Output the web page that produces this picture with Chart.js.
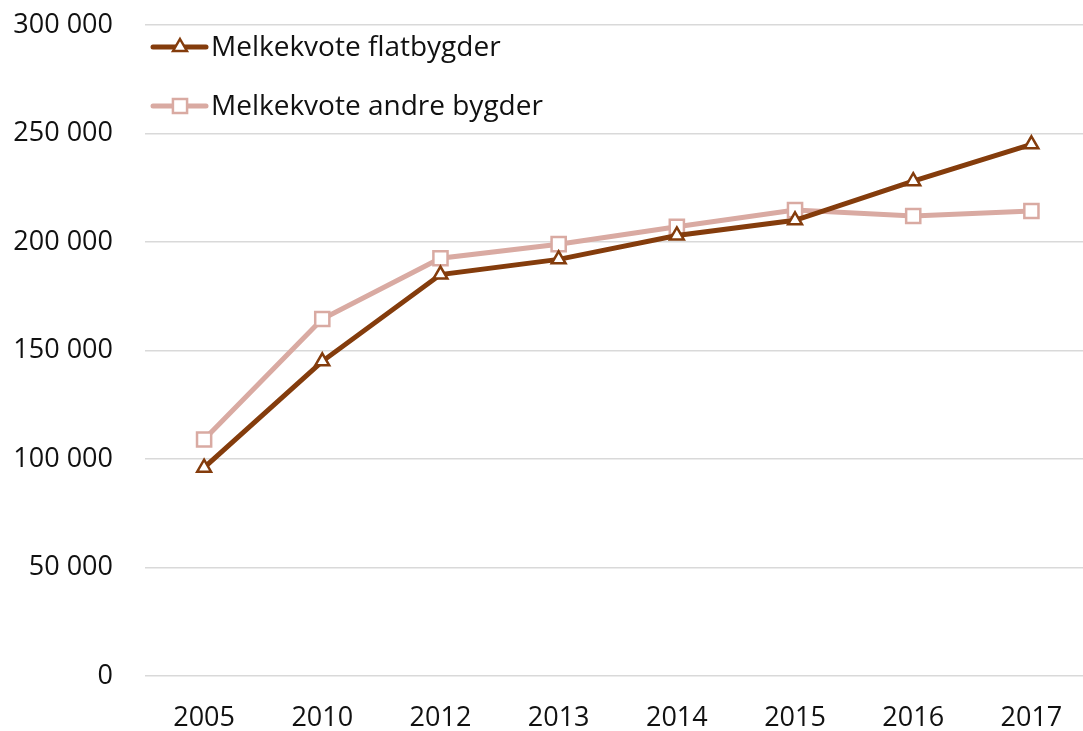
<!DOCTYPE html>
<html>
<head>
<meta charset="utf-8">
<script src="https://cdn.jsdelivr.net/npm/chart.js@4.4.1/dist/chart.umd.min.js"></script>
<style>
  html, body { margin: 0; padding: 0; background: #fff; overflow: hidden; }
  #wrap { width: 1103px; height: 731px; }
</style>
</head>
<body>
<div id="wrap"><canvas id="grafMelk"></canvas></div>
<script>
// Datos del gráfico
const aar = ['2005', '2010', '2012', '2013', '2014', '2015', '2016', '2017'];
const flatbygder = [96000, 145000, 185000, 192000, 203000, 210000, 228000, 245000];
const andreBygder = [109000, 164500, 192500, 199000, 207000, 214700, 212000, 214300];
const serieNavn = ['Melkekvote flatbygder', 'Melkekvote andre bygder'];
const yMin = 0, yMax = 300000, ySteg = 50000;

const fuente = '"Open Sans", "DejaVu Sans", sans-serif';
const colorOscuro = '#843c0c';
const colorClaro = '#d9aaa2';

// "300 000" con espacio como separador de miles
function formatoTusen(v) {
    return String(v).replace(/\B(?=(\d{3})+(?!\d))/g, ' ');
}

// Leyenda dibujada dentro del área del gráfico
const leyendaInterna = {
    id: 'leyendaInterna',
    afterDraw(chart) {
        const ctx = chart.ctx;
        const filas = [47, 106];
        ctx.save();
        chart.data.datasets.forEach((ds, i) => {
            const y = filas[i];
            ctx.strokeStyle = ds.borderColor;
            ctx.lineWidth = ds.borderWidth;
            ctx.lineCap = 'round';
            ctx.beginPath();
            ctx.moveTo(153, y);
            ctx.lineTo(206, y);
            ctx.stroke();
            ctx.fillStyle = '#fff';
            ctx.strokeStyle = ds.pointBorderColor;
            ctx.lineWidth = ds.pointBorderWidth;
            ctx.beginPath();
            if (ds.pointStyle === 'triangle') {
                const r = ds.pointRadius;
                ctx.moveTo(180, y - r);
                ctx.lineTo(180 + r * 0.866, y + r * 0.5);
                ctx.lineTo(180 - r * 0.866, y + r * 0.5);
                ctx.closePath();
            } else {
                const s = ds.pointRadius * Math.SQRT1_2;
                ctx.rect(180 - s, y - s, 2 * s, 2 * s);
            }
            ctx.fill();
            ctx.stroke();
            ctx.fillStyle = '#111';
            ctx.font = '28px ' + fuente;
            ctx.textBaseline = 'middle';
            ctx.textAlign = 'left';
            ctx.fillText(ds.label, 211, y + 1);
        });
        ctx.restore();
    }
};

const ctx = document.getElementById('grafMelk').getContext('2d');
const grafico = new Chart(ctx, {
    type: 'line',
    data: {
        labels: aar,
        datasets: [
            {
                label: serieNavn[0],
                data: flatbygder,
                borderColor: colorOscuro,
                borderWidth: 5,
                pointStyle: 'triangle',
                pointRadius: 8,
                pointBorderWidth: 2.5,
                pointBorderColor: colorOscuro,
                pointBackgroundColor: '#fff',
                tension: 0
            },
            {
                label: serieNavn[1],
                data: andreBygder,
                borderColor: colorClaro,
                borderWidth: 5,
                pointStyle: 'rect',
                pointRadius: 10,
                pointBorderWidth: 2.5,
                pointBorderColor: colorClaro,
                pointBackgroundColor: '#fff',
                tension: 0
            }
        ]
    },
    options: {
        responsive: true,
        maintainAspectRatio: false,
        animation: false,
        layout: { padding: { top: 25, right: 0, left: 0, bottom: 0 } },
        plugins: {
            legend: { display: false },
            tooltip: { enabled: false }
        },
        scales: {
            x: {
                offset: true,
                grid: { display: false, drawTicks: false },
                border: { display: false },
                ticks: {
                    color: '#111',
                    font: { family: fuente, size: 27 },
                    padding: 26,
                    maxRotation: 0
                },
                afterFit(scale) {
                    scale.height = 55;
                    scale.paddingLeft = 0;
                    scale.paddingRight = 0;
                }
            },
            y: {
                min: yMin,
                max: yMax,
                grid: { color: '#d9d9d9', lineWidth: 1.5, drawTicks: false },
                border: { display: false },
                ticks: {
                    stepSize: ySteg,
                    color: '#111',
                    font: { family: fuente, size: 27 },
                    padding: 32,
                    callback: v => formatoTusen(v)
                },
                afterFit(scale) {
                    scale.width = 145;
                    scale.paddingTop = 0;
                    scale.paddingBottom = 0;
                }
            }
        }
    },
    plugins: [leyendaInterna]
});
</script>
</body>
</html>
